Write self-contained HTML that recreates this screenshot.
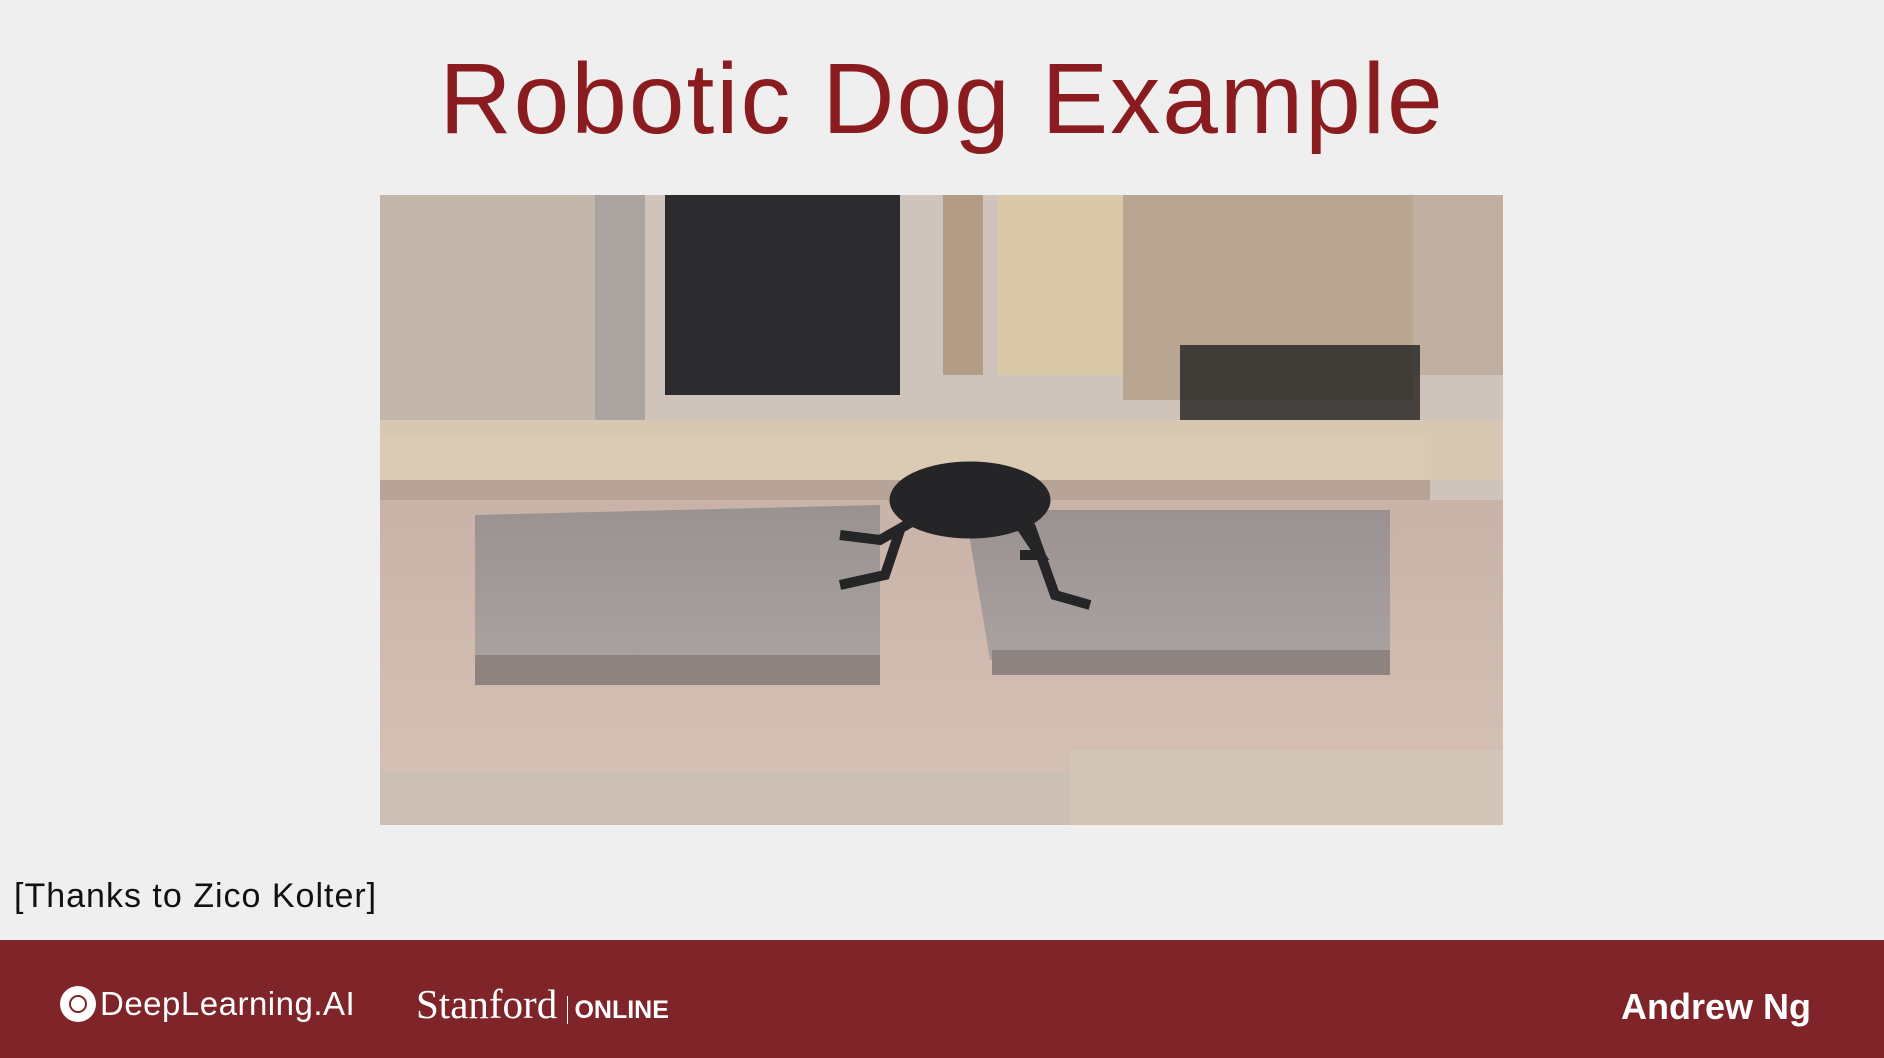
<!DOCTYPE html>
<html><head><meta charset="utf-8"><style>
html,body{margin:0;padding:0;}
body{width:1884px;height:1058px;background:#efefef;position:relative;overflow:hidden;font-family:"Liberation Sans",sans-serif;}
.abs{position:absolute;}
</style></head><body>
<div class="abs" style="left:0;width:1884px;top:39px;text-align:center;font-size:100px;letter-spacing:2px;color:#8a1c1f;line-height:120px;">Robotic Dog Example</div>

<svg class="abs" style="left:380px;top:195px" width="1123" height="630" viewBox="0 0 1123 630">
  <defs>
    <linearGradient id="fl" x1="0" y1="0" x2="0" y2="1"><stop offset="0" stop-color="#c9b3a8"/><stop offset="1" stop-color="#d7c2b6"/></linearGradient>
    <linearGradient id="pl" x1="0" y1="0" x2="0" y2="1"><stop offset="0" stop-color="#9a9290"/><stop offset="1" stop-color="#aaa2a0"/></linearGradient>
  </defs>
  <rect width="1123" height="630" fill="#cfc4bb"/>
  <rect x="0" y="0" width="215" height="245" fill="#c3b6aa"/>
  <rect x="215" y="0" width="50" height="230" fill="#a9a49f"/>
  <rect x="285" y="0" width="235" height="200" fill="#2c2c2e"/>
  <rect x="563" y="0" width="40" height="180" fill="#b39c86"/>
  <rect x="618" y="0" width="125" height="180" fill="#d9c9a8"/>
  <rect x="743" y="0" width="290" height="205" fill="#b8a592"/>
  <rect x="1033" y="0" width="90" height="180" fill="#c1afa2"/>
  <rect x="800" y="150" width="240" height="80" fill="#222" opacity="0.8"/>
  <rect x="0" y="225" width="1123" height="60" fill="#d8c7b2"/>
  <rect x="0" y="240" width="1045" height="55" fill="#dbcab4"/>
  <rect x="0" y="285" width="1050" height="25" fill="#b7a397"/>
  <rect x="0" y="305" width="1123" height="325" fill="url(#fl)"/>
  <polygon points="95,320 500,310 500,465 95,470" fill="url(#pl)"/>
  <rect x="95" y="460" width="405" height="30" fill="#8d8380"/>
  <polygon points="585,315 1010,315 1010,455 610,465" fill="url(#pl)"/>
  <rect x="612" y="455" width="398" height="25" fill="#8d8380"/>
  <rect x="0" y="575" width="1123" height="55" fill="#ccc0b6"/>
  <rect x="690" y="555" width="433" height="75" fill="#d3c6b9"/>
  <g fill="#252527" stroke="#252527">
    <ellipse cx="590" cy="305" rx="80" ry="38"/>
    <path d="M535 325 L500 345 L460 340" stroke-width="10" fill="none"/>
    <path d="M520 335 L505 380 L460 390" stroke-width="10" fill="none"/>
    <path d="M640 330 L660 360 L640 360" stroke-width="10" fill="none"/>
    <path d="M650 330 L675 400 L710 410" stroke-width="10" fill="none"/>
  </g>
</svg>

<div class="abs" style="left:14px;top:877px;font-size:34px;letter-spacing:1px;color:#111;">[Thanks to Zico Kolter]</div>

<div class="abs" style="left:0;top:940px;width:1884px;height:118px;background:#7f2428;"></div>
<div class="abs" style="left:60px;top:984px;height:40px;display:flex;align-items:center;color:#fff;font-size:33px;letter-spacing:0.5px;">
  <span style="display:inline-block;width:36px;height:36px;border-radius:50%;background:#fff;margin-right:4px;position:relative;"><span style="position:absolute;left:9px;top:9px;width:14px;height:14px;border:2px solid #7f2428;border-radius:50%;"></span></span>DeepLearning.AI</div>
<div class="abs" style="left:416px;top:980px;color:#fff;font-family:'Liberation Serif',serif;font-size:41px;">Stanford <span style="border-left:1px solid #fff;padding-left:6px;font-family:'Liberation Sans',sans-serif;font-size:25px;font-weight:bold;">ONLINE</span></div>
<div class="abs" style="right:73px;top:986px;color:#fff;font-size:36px;font-weight:bold;">Andrew Ng</div>
</body></html>
